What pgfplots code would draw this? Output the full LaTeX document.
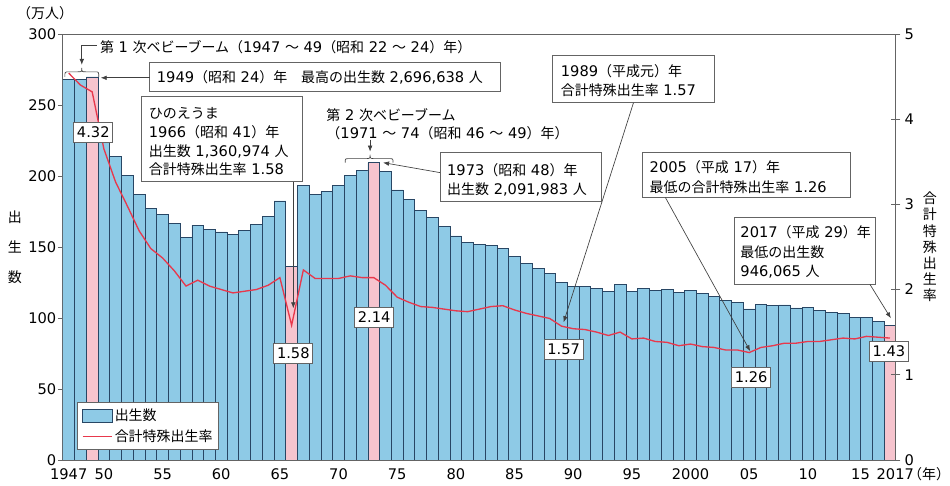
\documentclass[border=0pt]{standalone}
\usepackage{pgfplots}
\pgfplotsset{compat=1.18}
\usepackage{pgfplotstable}
\usepackage{fontspec}
\setmainfont{DejaVu Sans}
\newfontfamily\cjk{Noto Sans CJK JP}[Scale=0.955]
\usetikzlibrary{arrows.meta}
\newcommand\J[1]{{\cjk #1}}
\newcommand\fs{\fontsize{11}{14}\selectfont}
\definecolor{barblue}{RGB}{142,202,230}
\definecolor{barpink}{RGB}{246,196,206}
\definecolor{baredge}{RGB}{40,70,100}
\definecolor{tfrred}{RGB}{232,56,76}
\definecolor{framegray}{RGB}{100,100,100}

\pgfplotstableread{
year births tfr
1947 267.9 4.54
1948 268.2 4.40
1949 269.7 4.32
1950 233.8 3.65
1951 213.8 3.26
1952 200.5 2.98
1953 186.8 2.69
1954 177.0 2.48
1955 173.1 2.37
1956 166.5 2.22
1957 156.7 2.04
1958 165.3 2.11
1959 162.6 2.04
1960 160.6 2.00
1961 158.9 1.96
1962 161.9 1.98
1963 166.0 2.00
1964 171.7 2.05
1965 182.4 2.14
1966 136.1 1.58
1967 193.6 2.23
1968 187.2 2.13
1969 188.9 2.13
1970 193.4 2.13
1971 200.1 2.16
1972 203.9 2.14
1973 209.2 2.14
1974 203.0 2.05
1975 190.1 1.91
1976 183.3 1.85
1977 175.5 1.80
1978 170.9 1.79
1979 164.3 1.77
1980 157.7 1.75
1981 152.9 1.74
1982 151.5 1.77
1983 150.9 1.80
1984 149.0 1.81
1985 143.2 1.76
1986 138.3 1.72
1987 134.7 1.69
1988 131.4 1.66
1989 124.7 1.57
1990 122.2 1.54
1991 122.3 1.53
1992 120.9 1.50
1993 118.8 1.46
1994 123.8 1.50
1995 118.7 1.42
1996 120.7 1.43
1997 119.2 1.39
1998 120.3 1.38
1999 117.8 1.34
2000 119.1 1.36
2001 117.1 1.33
2002 115.4 1.32
2003 112.4 1.29
2004 111.1 1.29
2005 106.3 1.26
2006 109.3 1.32
2007 109.0 1.34
2008 109.1 1.37
2009 107.0 1.37
2010 107.1 1.39
2011 105.1 1.39
2012 103.7 1.41
2013 103.0 1.43
2014 100.4 1.42
2015 100.6 1.45
2016 97.7 1.44
2017 94.6 1.43
}\data

\pgfplotsset{
  common/.style={
    at={(47.25pt,-345.75pt)}, anchor=south west, scale only axis,
    width=626.25pt, height=320.25pt,
    xmin=1946.5, xmax=2017.5,
    axis line style={framegray, line width=0.6pt},
    tick label style={font=\fs},
    /pgf/number format/assume math mode=true,
  },
  lineleg/.style={legend image code/.code={\draw[tfrred, line width=1pt] (0pt,0pt) -- (22.5pt,0pt);}},
  barleg/.style={legend image code/.code={\draw[fill=barblue,draw=baredge,line width=0.55pt] (0pt,-4.9pt) rectangle (22.5pt,4.9pt);}},
}

\begin{document}
\begin{tikzpicture}[font=\fs]
\begin{scope}[x=0.75pt,y=-0.75pt]
\path[use as bounding box] (0,0) rectangle (950,487);
\end{scope}

\begin{axis}[common,
  ymin=0, ymax=300,
  ybar, bar width=1, bar shift=0pt,
  xtick={1947,1950,1955,1960,1965,1970,1975,1980,1985,1990,1995,2000,2005,2010,2015,2017},
  xticklabels={1947,50,55,60,65,70,75,80,85,90,95,2000,05,10,\llap{15\kern-2.5pt},\rlap{\kern-10pt 2017}},
  xtick style={draw=none},
  ytick={0,50,100,150,200,250,300},
  ytick pos=left, xtick pos=bottom,
  ytick style={framegray, line width=0.6pt},
  tick align=outside, major tick length=3.75pt,
  yticklabel style={inner xsep=1pt},
  xticklabel style={inner ysep=2.5pt},
]
\addplot[fill=barblue, draw=baredge, line width=0.55pt] table[x=year, y=births] {\data};
\addplot[fill=barpink, draw=baredge, line width=0.55pt] coordinates {(1949,269.7) (1966,136.1) (1973,209.2) (2017,94.6)};
\end{axis}

\begin{axis}[common,
  ymin=0, ymax=5,
  axis y line*=right, axis x line=none,
  ytick={0,1,2,3,4,5},
  ytick style={framegray, line width=0.6pt},
  tick align=center, major tick length=6.75pt,
  yticklabel style={inner xsep=3pt},
  legend style={at={(0.0168,0.1358)}, anchor=north west, draw=framegray,
    line width=0.6pt, fill=white, font=\fs, inner xsep=3.5pt, inner ysep=3.5pt,
    row sep=3pt, nodes={inner sep=1.2pt}},
  legend cell align=left,
]
\addlegendimage{barleg}
\addlegendentry{\J{出生数}}
\addplot[color=tfrred, line width=1pt, mark=none, lineleg]
  table[x=year, y=tfr] {\data};
\addlegendentry{\J{合計特殊出生率}}
\end{axis}

\begin{scope}[x=0.75pt,y=-0.75pt,
  box/.style={draw=framegray, fill=white, line width=0.6pt},
  txt/.style={anchor=base west, inner sep=0pt},
  arr/.style={draw=black!75, line width=0.5pt, -{Latex[length=4.5pt,width=3.5pt]}},
  vbox/.style={draw=framegray, fill=white, line width=0.6pt, minimum width=29.25pt, minimum height=15pt, inner sep=0pt, anchor=center}]

% axis titles
\node[anchor=west, inner sep=0pt] at (17,13) {\J{（万人）}};
\node at (15,218) {\J{出}};
\node at (15,248) {\J{生}};
\node at (15,278) {\J{数}};
\node at (932,199.0) {\J{合}};
\node at (932,215.2) {\J{計}};
\node at (932,231.4) {\J{特}};
\node at (932,247.6) {\J{殊}};
\node at (932,263.8) {\J{出}};
\node at (932,280.0) {\J{生}};
\node at (932,296.2) {\J{率}};
\node[anchor=west, inner sep=0pt] at (910,475) {\J{（年）}};

% first baby boom
\node[txt] at (100,52.5) {\J{第} 1 \J{次ベビーブーム（}1947 \J{～} 49\J{（昭和} 22 \J{～} 24\J{）年）}};
\draw[arr] (97,45) -- (82,45) -- (82,65);
\draw[draw=black!75, line width=0.5pt] (65,77) .. controls (65,72) .. (69,72) -- (78,72) .. controls (82,72) .. (82,68) .. controls (82,72) .. (86,72) -- (95,72) .. controls (99,72) .. (99,77);

% 1949 box
\draw[box] (150,63) rectangle (502,92);
\node[txt] at (157,83) {1949\J{（昭和} 24\J{）年　最高の出生数} 2,696,638 \J{人}};
\draw[arr] (150,78) -- (101,78);

% 1966 box
\draw[box] (142,97) rectangle (303,182);
\node[txt] at (149,118.5) {\J{ひのえうま}};
\node[txt] at (149,137.5) {1966\J{（昭和} 41\J{）年}};
\node[txt] at (149,156.5) {\J{出生数} 1,360,974 \J{人}};
\node[txt] at (149,174.5) {\J{合計特殊出生率} 1.58};
\draw[arr] (294,182) -- (294,309);

% second baby boom
\node[txt] at (327,120.5) {\J{第} 2 \J{次ベビーブーム}};
\node[txt] at (327,138.5) {\J{（}1971 \J{～} 74\J{（昭和} 46 \J{～} 49\J{）年）}};
\draw[arr] (371,140) -- (371,152);
\draw[draw=black!75, line width=0.5pt] (346,163) .. controls (346,159) .. (350,159) -- (366,159) .. controls (371,159) .. (371,155) .. controls (371,159) .. (376,159) -- (390,159) .. controls (394,159) .. (394,163);

% 1973 box
\draw[box] (441,153) rectangle (603,202);
\node[txt] at (448,175.5) {1973\J{（昭和} 48\J{）年}};
\draw[arr] (441,173) -- (384,163);
\node[txt] at (448,194.5) {\J{出生数} 2,091,983 \J{人}};

% 1989 box
\draw[box] (554,56) rectangle (716,103);
\node[txt] at (562,76.5) {1989\J{（平成元）年}};
\node[txt] at (562,95.5) {\J{合計特殊出生率} 1.57};
\draw[arr] (635,103) -- (565,323);

% 2005 box
\draw[box] (644,153) rectangle (852,198);
\node[txt] at (651,172.5) {2005\J{（平成} 17\J{）年}};
\node[txt] at (651,192.5) {\J{最低の合計特殊出生率} 1.26};
\draw[arr] (667,198) -- (752,352);

% 2017 box
\draw[box] (736,218) rectangle (878,285);
\node[txt] at (742,238.5) {2017\J{（平成} 29\J{）年}};
\node[txt] at (742,258.5) {\J{最低の出生数}};
\node[txt] at (742,277.5) {946,065 \J{人}};
\draw[arr] (872,285) -- (893,319);

% value labels
\node[vbox] at (93.5,132.5) {4.32};
\node[vbox] at (294,354) {1.58};
\node[vbox] at (375,318) {2.14};
\node[vbox] at (565,350) {1.57};
\node[vbox] at (753,378) {1.26};
\node[vbox] at (891,352.5) {1.43};
\end{scope}
\end{tikzpicture}
\end{document}
